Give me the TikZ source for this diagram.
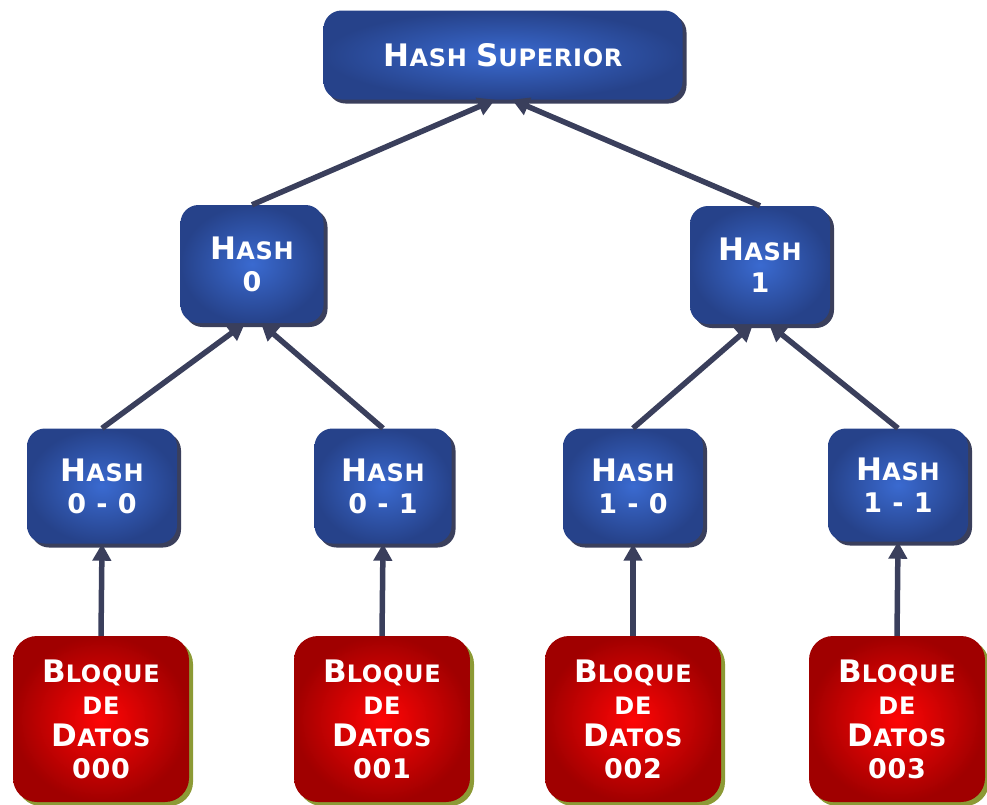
\documentclass[tikz,border=0pt]{standalone}
\usepackage{fontspec}
\setmainfont{DejaVu Sans}[LetterSpace=3]
\usetikzlibrary{shadows,arrows.meta}
\definecolor{edgec}{HTML}{3A3F5C}
\definecolor{blin}{HTML}{3A6AD0}
\definecolor{blout}{HTML}{26428A}
\definecolor{rdin}{HTML}{FF0505}
\definecolor{rdout}{HTML}{A00000}
\definecolor{olive}{HTML}{8C9A35}
\newcommand{\BC}[1]{{\fontsize{31}{32}\selectfont #1}}
\newcommand{\DG}[1]{{\fontsize{27}{32}\selectfont #1}}
\tikzset{
  hashbox/.style={rounded corners=18pt, inner color=blin, outer color=blout,
    text=white, align=center, font=\bfseries\fontsize{24}{32}\selectfont,
    drop shadow={shadow xshift=4pt, shadow yshift=-4pt, fill=edgec, opacity=1},
    minimum height=116pt, inner sep=0pt},
  datbox/.style={rounded corners=24pt, inner color=rdin, outer color=rdout,
    text=white, align=center, font=\bfseries\fontsize{24}{32}\selectfont,
    drop shadow={shadow xshift=4pt, shadow yshift=-4pt, fill=olive, opacity=1},
    minimum width=176pt, minimum height=166pt, inner sep=0pt},
  conn/.style={draw=edgec, line width=5.5pt, -{Triangle[length=17pt,width=18pt]}}
}
\begin{document}
\begin{tikzpicture}[x=1pt,y=-1pt]
\useasboundingbox (0,0) rectangle (987,804);
\node[hashbox, minimum width=359pt, minimum height=89pt] (hs) at (503,55) {\BC{H}ASH \BC{S}UPERIOR};
\node[hashbox, minimum width=143pt, minimum height=118pt] (h0) at (252,264) {\BC{H}ASH\\\DG{0}};
\node[hashbox, minimum width=140pt, minimum height=118pt] (h1) at (760,265) {\BC{H}ASH\\\DG{1}};
\node[hashbox, minimum width=150pt, minimum height=115pt] (h00) at (102,486) {\BC{H}ASH\\\DG{0 - 0}};
\node[hashbox, minimum width=137pt, minimum height=115pt] (h01) at (383,486) {\BC{H}ASH\\\DG{0 - 1}};
\node[hashbox, minimum width=140pt, minimum height=115pt] (h10) at (633,486) {\BC{H}ASH\\\DG{1 - 0}};
\node[hashbox, minimum width=140pt, minimum height=113pt] (h11) at (898,485) {\BC{H}ASH\\\DG{1 - 1}};
\node[datbox] (b0) at (101,719) {\BC{B}LOQUE\\DE\\\BC{D}ATOS\\\DG{000}};
\node[datbox] (b1) at (382,719) {\BC{B}LOQUE\\DE\\\BC{D}ATOS\\\DG{001}};
\node[datbox] (b2) at (633,719) {\BC{B}LOQUE\\DE\\\BC{D}ATOS\\\DG{002}};
\node[datbox] (b3) at (897,719) {\BC{B}LOQUE\\DE\\\BC{D}ATOS\\\DG{003}};
\draw[conn] (h0.north) -- ([xshift=-8pt]hs.south);
\draw[conn] (h1.north) -- ([xshift=9pt]hs.south);
\draw[conn] (h00.north) -- ([xshift=-7pt]h0.south);
\draw[conn] (h01.north) -- ([xshift=9pt]h0.south);
\draw[conn] (h10.north) -- ([xshift=-7pt]h1.south);
\draw[conn] (h11.north) -- ([xshift=9pt]h1.south);
\draw[conn] (b0.north) -- (h00.south);
\draw[conn] (b1.north) -- (h01.south);
\draw[conn] (b2.north) -- (h10.south);
\draw[conn] (b3.north) -- (h11.south);
\end{tikzpicture}
\end{document}
